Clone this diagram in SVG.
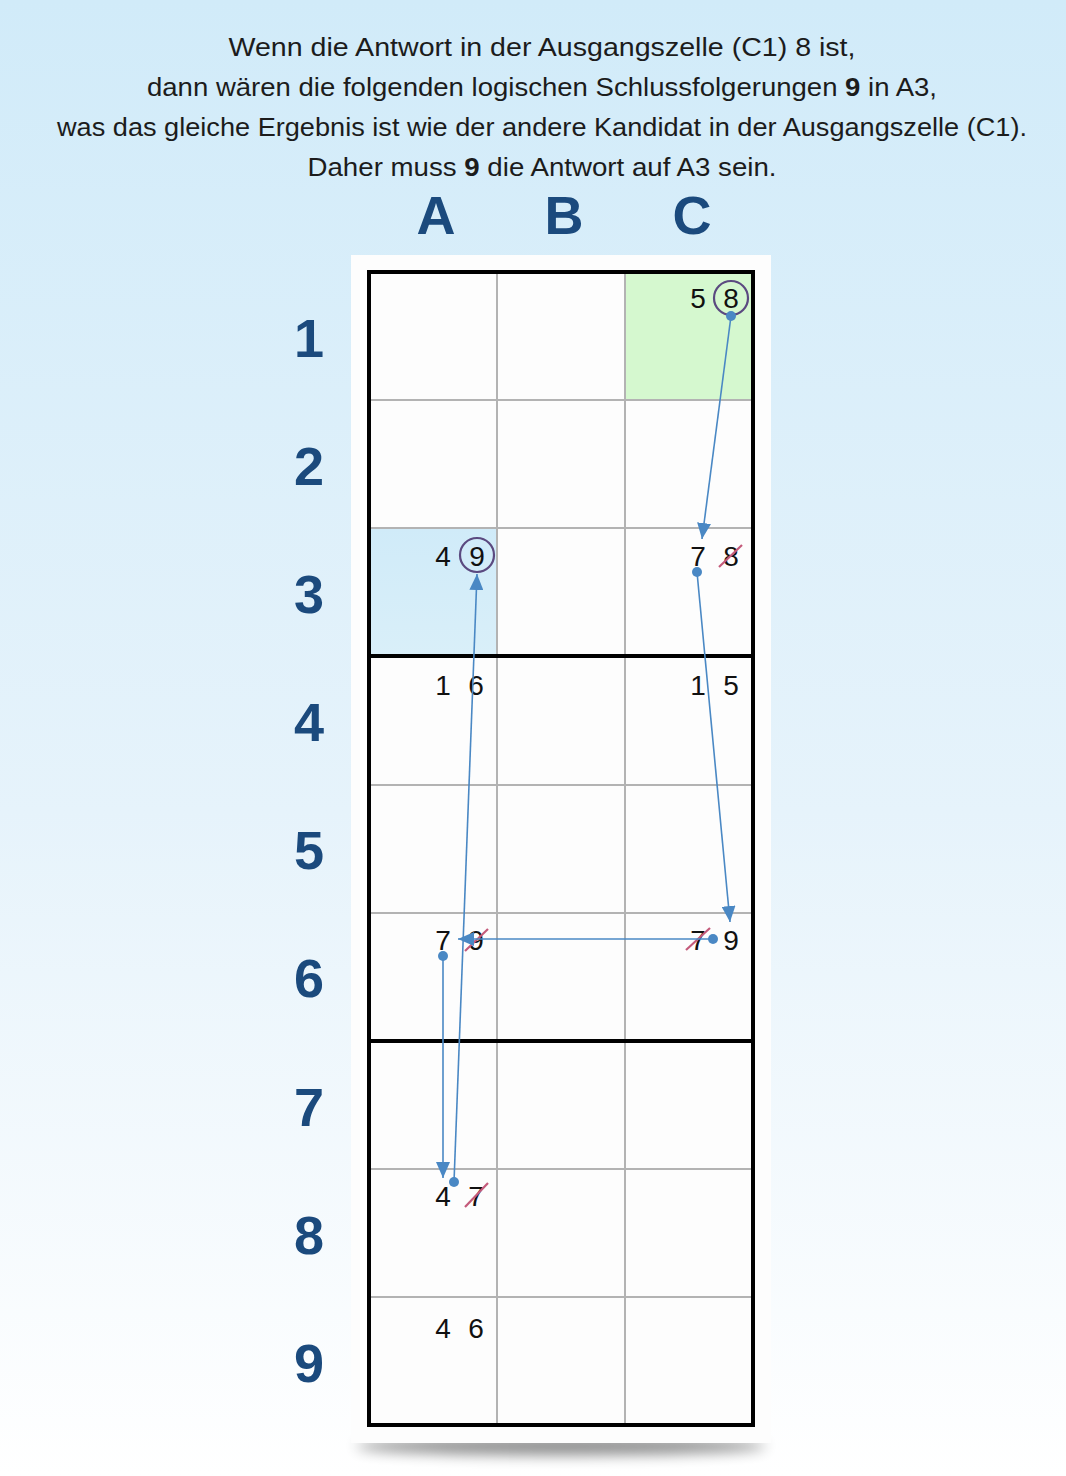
<svg xmlns="http://www.w3.org/2000/svg" width="1066" height="1476" viewBox="0 0 1066 1476">
<defs>
<linearGradient id="bg" x1="0" y1="0" x2="0" y2="1">
<stop offset="0" stop-color="#d1ebf9"/>
<stop offset="0.55" stop-color="#e6f3fb"/>
<stop offset="1" stop-color="#ffffff"/>
</linearGradient>
<linearGradient id="blueCell" x1="0" y1="0" x2="0" y2="1">
<stop offset="0" stop-color="#d0ebf9"/>
<stop offset="1" stop-color="#d9eff9"/>
</linearGradient>
<filter id="blur" x="-20%" y="-200%" width="140%" height="500%">
<feGaussianBlur stdDeviation="7"/>
</filter>
<marker id="arr" markerUnits="userSpaceOnUse" markerWidth="18" markerHeight="14" refX="16" refY="7" orient="auto">
<path d="M0,0 L16,7 L0,14 Z" fill="#4a88c4"/>
</marker>
<style>
.title{font-family:"Liberation Sans",Arial,sans-serif;font-size:25px;fill:#1c1c1c;text-anchor:middle}
.lbl{font-family:"Liberation Sans",Arial,sans-serif;font-size:54px;font-weight:bold;fill:#1b4a7d;text-anchor:middle}
.d{font-family:"Liberation Sans",Arial,sans-serif;font-size:28px;fill:#111;text-anchor:middle}
.thin{stroke:#b3b3b3;stroke-width:2;fill:none}
.thick{stroke:#000;stroke-width:4;fill:none}
.circ{fill:none;stroke:#5b4a80;stroke-width:2.2}
.strike{stroke:#c45a7a;stroke-width:2.2}
.link{stroke:#4a88c4;stroke-width:1.6;fill:none;marker-end:url(#arr)}
.dot{fill:#4a88c4}
</style>
</defs>
<rect width="1066" height="1476" fill="url(#bg)"/>
<g id="title">
<text class="title" x="542" y="56" textLength="627" lengthAdjust="spacingAndGlyphs">Wenn die Antwort in der Ausgangszelle (C1) 8 ist,</text>
<text class="title" x="542" y="96" textLength="790" lengthAdjust="spacingAndGlyphs">dann wären die folgenden logischen Schlussfolgerungen <tspan font-weight="bold">9</tspan> in A3,</text>
<text class="title" x="542" y="136" textLength="970" lengthAdjust="spacingAndGlyphs">was das gleiche Ergebnis ist wie der andere Kandidat in der Ausgangszelle (C1).</text>
<text class="title" x="542" y="176" textLength="469" lengthAdjust="spacingAndGlyphs">Daher muss <tspan font-weight="bold">9</tspan> die Antwort auf A3 sein.</text>
</g>
<g id="col-labels">
<text class="lbl" x="436" y="234">A</text>
<text class="lbl" x="564" y="234">B</text>
<text class="lbl" x="692" y="234">C</text>
</g>
<g id="row-labels">
<text class="lbl" x="309" y="357">1</text>
<text class="lbl" x="309" y="485">2</text>
<text class="lbl" x="309" y="613">3</text>
<text class="lbl" x="309" y="741">4</text>
<text class="lbl" x="309" y="869">5</text>
<text class="lbl" x="309" y="997">6</text>
<text class="lbl" x="309" y="1126">7</text>
<text class="lbl" x="309" y="1254">8</text>
<text class="lbl" x="309" y="1382">9</text>
</g>
<g id="panel">
<ellipse cx="561" cy="1446" rx="205" ry="9" fill="#000" opacity="0.45" filter="url(#blur)"/>
<rect x="351" y="255" width="420" height="1188" fill="#fdfdfd"/>
</g>
<g id="grid">
<rect id="cell-C1" x="625" y="272" width="128" height="128" fill="#d5f8cf"/>
<rect id="cell-A3" x="369" y="528" width="128" height="128" fill="url(#blueCell)"/>
<path class="thin" d="M497,272V1425 M625,272V1425 M369,400H753 M369,528H753 M369,785H753 M369,913H753 M369,1169H753 M369,1297H753"/>
<path class="thick" d="M369,656H753 M369,1041H753"/>
<rect class="thick" x="369" y="272" width="384" height="1153"/>
</g>
<g id="C1">
<text class="d" x="698" y="308">5</text>
<text class="d" x="731" y="308">8</text>
<circle class="circ" cx="731" cy="298" r="17"/>
</g>
<g id="A3">
<text class="d" x="443" y="566">4</text>
<text class="d" x="477" y="566">9</text>
<circle class="circ" cx="477" cy="555" r="17"/>
</g>
<g id="C3">
<text class="d" x="698" y="566">7</text>
<text class="d" x="731" y="566">8</text>
<line class="strike" x1="719" y1="567" x2="742" y2="545"/>
</g>
<g id="A4">
<text class="d" x="443" y="695">1</text>
<text class="d" x="476" y="695">6</text>
</g>
<g id="C4">
<text class="d" x="698" y="695">1</text>
<text class="d" x="731" y="695">5</text>
</g>
<g id="A6">
<text class="d" x="443" y="950">7</text>
<text class="d" x="476" y="950">9</text>
<line class="strike" x1="465" y1="951" x2="488" y2="929"/>
</g>
<g id="C6">
<text class="d" x="698" y="950">7</text>
<text class="d" x="731" y="950">9</text>
<line class="strike" x1="686" y1="950" x2="710" y2="928"/>
</g>
<g id="A8">
<text class="d" x="443" y="1206">4</text>
<text class="d" x="476" y="1206">7</text>
<line class="strike" x1="465" y1="1207" x2="488" y2="1183"/>
</g>
<g id="A9">
<text class="d" x="443" y="1338">4</text>
<text class="d" x="476" y="1338">6</text>
</g>
<g id="connectors">
<line class="link" x1="731" y1="316" x2="702" y2="539"/>
<circle class="dot" cx="731" cy="316" r="5"/>
<line class="link" x1="697" y1="572" x2="730" y2="922"/>
<circle class="dot" cx="697" cy="572" r="5"/>
<line class="link" x1="713" y1="939" x2="458" y2="939"/>
<circle class="dot" cx="713" cy="939" r="5"/>
<line class="link" x1="443" y1="956" x2="443" y2="1178"/>
<circle class="dot" cx="443" cy="956" r="5"/>
<line class="link" x1="454" y1="1182" x2="477" y2="574"/>
<circle class="dot" cx="454" cy="1182" r="5"/>
</g>
</svg>
